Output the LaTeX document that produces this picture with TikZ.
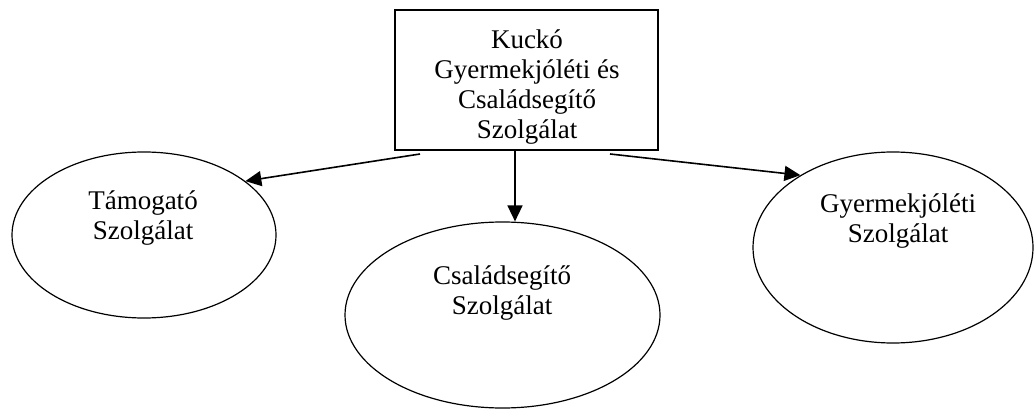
\documentclass[tikz,border=0pt]{standalone}
\usepackage{fontspec}
\setmainfont{Liberation Serif}
\usetikzlibrary{arrows.meta,shapes.geometric}
\tikzset{
  unitbox/.style={draw,line width=1.6pt,minimum width=263pt,minimum height=140pt,inner sep=0pt},
  unitoval/.style={draw,ellipse,line width=1.2pt,inner sep=0pt},
  unittext/.style={align=center,inner sep=0pt,font=\fontsize{27}{30}\selectfont},
  feed/.style={line width=1.6pt,-{Triangle[length=16pt,width=15pt]}}
}
\begin{document}
\begin{tikzpicture}[x=1pt,y=1pt] % Szolgalat felepitese
  \useasboundingbox (0,0) rectangle (1035,410);
  % kozponti egyseg
  \node[unitbox] (kucko) at (526.5,330) {};
  \node[unittext] (kuckotext) at (527,323) {Kuckó\\Gyermekjóléti és\\Családsegítő\\Szolgálat};
  % alegysegek
  \node[unitoval,minimum width=264pt,minimum height=166pt] (tam) at (144,175) {};
  \node[unittext] (tamtext) at (143,192) {Támogató\\Szolgálat};
  \node[unitoval,minimum width=315pt,minimum height=186pt] (csal) at (502.5,95) {};
  \node[unittext] (csaltext) at (502,117) {Családsegítő\\Szolgálat};
  \node[unitoval,minimum width=280pt,minimum height=191pt] (gyj) at (893,162.5) {};
  \node[unittext] (gyjtext) at (898,188.5) {Gyermekjóléti\\Szolgálat};
  % nyilak
  \coordinate (kl) at (420,256);
  \coordinate (km) at (515,260);
  \coordinate (kr) at (610,256);
  \draw[feed] (kl) -- (tam.28);
  \draw[feed] (km) -- (km |- csal.north);
  \draw[feed] (kr) -- (gyj.142);
\end{tikzpicture}
\end{document}
